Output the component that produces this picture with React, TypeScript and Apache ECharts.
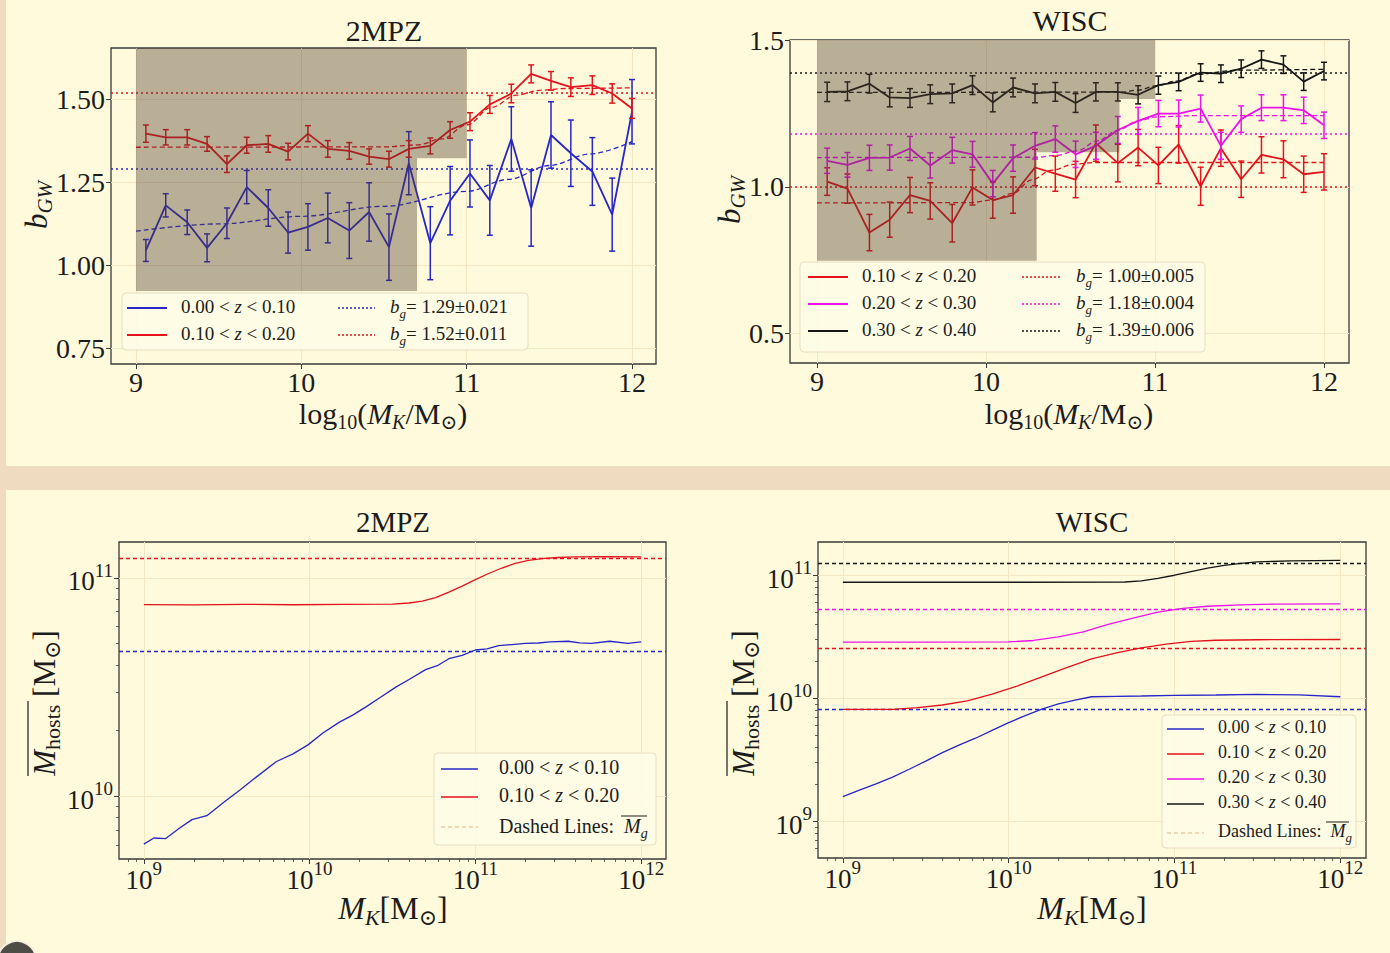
import React, { useEffect, useRef } from "react";
import * as echarts from "echarts";

const FONT = "'Liberation Serif', 'DejaVu Serif', serif";
const INK = "#1c1c1c";
const FRAME = "#3a3a3a";
const BLUE = "#2626c9";
const RED = "#e3121c";
const MAGENTA = "#ec12ec";
const BLACK = "#161616";
const SHADE = "rgba(80, 60, 45, 0.4)";
const GRIDLINE = "#f3e6c3";
const PEACH = "#f1c9a4";
const CREAM = "#fffadc";
const TAN = "#eedbc0";

// ---------------- Top row: b_GW vs log10(M_K/M_sun) ----------------
const massBins = [9.06, 9.18, 9.31, 9.43, 9.55, 9.67, 9.8, 9.92, 10.04, 10.16, 10.29, 10.41, 10.53, 10.65, 10.78, 10.9, 11.02, 11.14, 11.27, 11.39, 11.51, 11.63, 11.76, 11.88, 12.0];
const topXTicks = [9, 10, 11, 12];

// 2MPZ
const blue2mpz = [1.044, 1.18, 1.129, 1.052, 1.126, 1.235, 1.172, 1.098, 1.115, 1.142, 1.104, 1.16, 1.054, 1.307, 1.066, 1.194, 1.276, 1.195, 1.38, 1.172, 1.392, 1.337, 1.282, 1.152, 1.462];
const blue2mpzErr = [0.033, 0.035, 0.037, 0.042, 0.046, 0.05, 0.055, 0.062, 0.07, 0.075, 0.084, 0.088, 0.1, 0.095, 0.11, 0.103, 0.101, 0.105, 0.097, 0.115, 0.1, 0.1, 0.102, 0.11, 0.097];
const red2mpz = [1.396, 1.385, 1.385, 1.365, 1.304, 1.361, 1.365, 1.342, 1.396, 1.35, 1.344, 1.327, 1.319, 1.35, 1.359, 1.407, 1.432, 1.484, 1.517, 1.576, 1.555, 1.536, 1.542, 1.517, 1.472];
const red2mpzErr = [0.026, 0.023, 0.023, 0.022, 0.025, 0.024, 0.025, 0.025, 0.024, 0.025, 0.025, 0.023, 0.024, 0.025, 0.024, 0.025, 0.027, 0.027, 0.028, 0.027, 0.028, 0.028, 0.028, 0.029, 0.03];
const blueFit2mpzX = [9.0, 9.5, 10.0, 10.5, 11.0, 11.25, 11.5, 11.75, 12.0];
const blueFit2mpzY = [1.102, 1.124, 1.147, 1.177, 1.222, 1.258, 1.3, 1.335, 1.372];
const redFit2mpzX = [9.0, 10.5, 10.7, 10.85, 11.0, 11.15, 11.3, 11.45, 11.6, 12.0];
const redFit2mpzY = [1.355, 1.356, 1.362, 1.38, 1.422, 1.475, 1.512, 1.527, 1.532, 1.534];
const bg2mpz = [1.29, 1.52];
const bg2mpzErr = ["0.021", "0.011"];
const shade2mpzX = [9.0, 11.0, 11.0, 10.7, 10.7, 9.0];
const shade2mpzY = [1.654, 1.654, 1.322, 1.322, 0.922, 0.922];
const y2mpzTicks = [0.75, 1.0, 1.25, 1.5];

// WISC
const redWisc = [1.018, 0.994, 0.844, 0.888, 0.972, 0.952, 0.876, 0.998, 0.955, 0.972, 1.066, 1.045, 1.025, 1.149, 1.081, 1.134, 1.073, 1.145, 1.002, 1.132, 1.026, 1.109, 1.094, 1.043, 1.051];
const redWiscErr = [0.047, 0.05, 0.062, 0.06, 0.06, 0.062, 0.064, 0.06, 0.062, 0.062, 0.062, 0.06, 0.062, 0.062, 0.064, 0.062, 0.062, 0.064, 0.065, 0.062, 0.062, 0.062, 0.063, 0.062, 0.062];
const magWisc = [1.089, 1.075, 1.099, 1.1, 1.131, 1.073, 1.125, 1.111, 1.011, 1.098, 1.14, 1.163, 1.111, 1.14, 1.194, 1.225, 1.25, 1.25, 1.267, 1.14, 1.231, 1.27, 1.27, 1.261, 1.21];
const magWiscErr = [0.043, 0.042, 0.043, 0.043, 0.041, 0.043, 0.044, 0.044, 0.045, 0.045, 0.045, 0.045, 0.045, 0.046, 0.046, 0.046, 0.045, 0.046, 0.046, 0.046, 0.045, 0.044, 0.044, 0.045, 0.045];
const blackWisc = [1.324, 1.326, 1.352, 1.305, 1.303, 1.316, 1.319, 1.347, 1.288, 1.339, 1.319, 1.324, 1.286, 1.324, 1.324, 1.314, 1.347, 1.358, 1.39, 1.386, 1.403, 1.434, 1.417, 1.359, 1.395];
const blackWiscErr = [0.033, 0.032, 0.032, 0.032, 0.032, 0.032, 0.032, 0.032, 0.032, 0.032, 0.032, 0.032, 0.032, 0.031, 0.031, 0.031, 0.031, 0.03, 0.03, 0.03, 0.03, 0.03, 0.03, 0.03, 0.03];
const redFitWiscX = [9.0, 9.9, 10.04, 10.16, 10.27, 10.39, 10.52, 10.64, 12.0];
const redFitWiscY = [0.945, 0.946, 0.955, 0.978, 1.024, 1.057, 1.077, 1.083, 1.083];
const magFitWiscX = [9.0, 10.3, 10.42, 10.54, 10.66, 10.78, 10.9, 11.01, 11.25, 12.0];
const magFitWiscY = [1.1, 1.101, 1.108, 1.123, 1.157, 1.193, 1.225, 1.239, 1.243, 1.243];
const blackFitWiscX = [9.0, 10.8, 10.9, 11.0, 11.13, 11.25, 11.49, 12.0];
const blackFitWiscY = [1.322, 1.323, 1.33, 1.344, 1.361, 1.384, 1.398, 1.401];
const bgWisc = [1.0, 1.18, 1.39];
const bgWiscErr = ["0.005", "0.004", "0.006"];
const shadeWiscX = [9.0, 11.0, 11.0, 10.79, 10.79, 10.3, 10.3, 9.0];
const shadeWiscY = [1.501, 1.501, 1.3, 1.3, 1.118, 1.118, 0.748, 0.748];
const yWiscTicks = [0.5, 1.0, 1.5];

// ---------------- Bottom row: mean host mass (log10 values) ----------------
const logTicksX = [9, 10, 11, 12];
const hostBlue2mpzX = [9.0, 9.06, 9.13, 9.21, 9.29, 9.38, 9.49, 9.58, 9.67, 9.8, 9.9, 9.99, 10.08, 10.18, 10.26, 10.34, 10.43, 10.52, 10.6, 10.7, 10.77, 10.84, 10.92, 11.0, 11.07, 11.14, 11.22, 11.3, 11.38, 11.45, 11.56, 11.63, 11.7, 11.81, 11.92, 12.0];
const hostBlue2mpzY = [9.782, 9.81, 9.807, 9.852, 9.894, 9.912, 9.978, 10.03, 10.084, 10.16, 10.195, 10.236, 10.29, 10.34, 10.372, 10.41, 10.455, 10.5, 10.535, 10.58, 10.598, 10.63, 10.645, 10.67, 10.675, 10.69, 10.695, 10.7, 10.702, 10.707, 10.71, 10.703, 10.7, 10.71, 10.7, 10.707];
const hostRed2mpzX = [9.0, 9.3, 9.6, 9.9, 10.2, 10.5, 10.6, 10.68, 10.76, 10.84, 10.92, 11.0, 11.08, 11.16, 11.24, 11.32, 11.4, 11.5, 11.6, 11.8, 12.0];
const hostRed2mpzY = [10.878, 10.876, 10.879, 10.877, 10.879, 10.88, 10.885, 10.894, 10.91, 10.935, 10.962, 10.992, 11.02, 11.045, 11.066, 11.08, 11.088, 11.093, 11.096, 11.097, 11.096];
const mg2mpz = [10.665, 11.089];

const hostBlueWiscX = [9.0, 9.1, 9.2, 9.3, 9.4, 9.5, 9.6, 9.7, 9.8, 9.9, 10.0, 10.1, 10.2, 10.3, 10.4, 10.5, 10.65, 10.8, 11.0, 11.25, 11.5, 11.75, 12.0];
const hostBlueWiscY = [9.202, 9.255, 9.305, 9.36, 9.424, 9.49, 9.559, 9.62, 9.676, 9.74, 9.802, 9.86, 9.913, 9.955, 9.986, 10.013, 10.016, 10.019, 10.024, 10.027, 10.032, 10.028, 10.013];
const hostRedWiscX = [9.0, 9.3, 9.45, 9.6, 9.75, 9.9, 10.05, 10.2, 10.35, 10.5, 10.65, 10.8, 10.95, 11.1, 11.25, 11.5, 12.0];
const hostRedWiscY = [9.911, 9.91, 9.925, 9.946, 9.98, 10.035, 10.1, 10.175, 10.25, 10.32, 10.37, 10.41, 10.44, 10.462, 10.472, 10.476, 10.478];
const hostMagWiscX = [9.0, 9.5, 10.0, 10.15, 10.3, 10.45, 10.6, 10.75, 10.9, 11.05, 11.2, 11.4, 11.6, 12.0];
const hostMagWiscY = [10.457, 10.456, 10.458, 10.47, 10.5, 10.54, 10.6, 10.652, 10.7, 10.73, 10.748, 10.759, 10.765, 10.767];
const hostBlackWiscX = [9.0, 10.0, 10.7, 10.8, 10.9, 11.0, 11.1, 11.2, 11.3, 11.4, 11.5, 11.7, 12.0];
const hostBlackWiscY = [10.943, 10.943, 10.945, 10.955, 10.975, 11.0, 11.03, 11.058, 11.08, 11.097, 11.108, 11.117, 11.12];
const mgWisc = [9.913, 10.41, 10.727, 11.1];

const zLow = ["0.00", "0.10", "0.20", "0.30"];
const zHigh = ["0.10", "0.20", "0.30", "0.40"];

// ---------------- helpers ----------------
const pairs = (xs: number[], ys: number[]) => xs.map((x, i) => [x, ys[i]]);
const logPairs = (xs: number[], ys: number[]) => xs.map((x, i) => [Math.pow(10, x), Math.pow(10, ys[i])]);

function minorLogTicks(lo: number, hi: number) {
  const out: number[] = [];
  for (let e = Math.floor(lo); e <= Math.ceil(hi); e++) {
    for (let k = 2; k <= 9; k++) {
      const lv = Math.log10(k) + e;
      if (lv > lo && lv < hi) out.push(k * Math.pow(10, e));
    }
  }
  return out;
}

function richSet(size: number, sub: number) {
  const base = { fontFamily: FONT, fill: INK, color: INK };
  return {
    r: { ...base, fontSize: size, lineHeight: size + 4, verticalAlign: "top" },
    i: { ...base, fontSize: size, lineHeight: size + 4, verticalAlign: "top", fontStyle: "italic" },
    s: { ...base, fontSize: sub, verticalAlign: "bottom" },
    si: { ...base, fontSize: sub, verticalAlign: "bottom", fontStyle: "italic" },
  };
}

function textEl(x: number, y: number, text: string, size: number, sub: number, align = "center", rotation = 0) {
  return {
    type: "text",
    x,
    y,
    rotation,
    z: 100,
    silent: true,
    style: {
      text,
      rich: richSet(size, sub),
      align,
      verticalAlign: "middle",
      fill: INK,
      font: `${size}px ${FONT}`,
    },
  };
}

function lineEl(x1: number, y1: number, x2: number, y2: number, color: string, width: number, dash?: number[]) {
  const style: any = { stroke: color, lineWidth: width };
  if (dash) style.lineDash = dash;
  return { type: "line", z: 101, silent: true, shape: { x1, y1, x2, y2 }, style };
}

function boxEl(x: number, y: number, w: number, h: number) {
  return {
    type: "rect",
    z: 99,
    silent: true,
    shape: { x, y, width: w, height: h, r: 4 },
    style: { fill: "rgba(255,251,230,0.85)", stroke: "#eadcc0", lineWidth: 1 },
  };
}

const zText = (i: number) => `{r|${zLow[i]} < }{i|z}{r| < ${zHigh[i]}}`;
const bgText = (v: number, e: string) => `{i|b}{si|g}{r|= ${v.toFixed(2)}±${e}}`;

function linAxis(dim: "x" | "y", gi: number, min: number, max: number, ticks: number[], fmt: (v: number) => string) {
  return {
    type: "value",
    gridIndex: gi,
    min,
    max,
    position: dim === "x" ? "bottom" : "left",
    axisLine: { show: false },
    splitLine: { show: false },
    axisTick: { show: true, customValues: ticks, length: 5, lineStyle: { color: FRAME, width: 1 } },
    axisLabel: {
      customValues: ticks,
      formatter: (v: number) => fmt(v),
      fontFamily: FONT,
      fontSize: 28,
      color: INK,
      margin: dim === "x" ? 4 : 6,
    },
  };
}

function logAxis(dim: "x" | "y", gi: number, lo: number, hi: number, ticks: number[]) {
  return {
    type: "log",
    logBase: 10,
    gridIndex: gi,
    min: Math.pow(10, lo),
    max: Math.pow(10, hi),
    position: dim === "x" ? "bottom" : "left",
    axisLine: { show: false },
    splitLine: { show: false },
    axisTick: { show: true, customValues: ticks.map((t) => Math.pow(10, t)), length: 5, lineStyle: { color: FRAME, width: 1 } },
    axisLabel: {
      customValues: ticks.map((t) => Math.pow(10, t)),
      formatter: (v: number) => `{b|10}{p|${Math.round(Math.log10(v))}}`,
      rich: {
        b: { fontFamily: FONT, fontSize: 27, lineHeight: 34, verticalAlign: "bottom", color: INK },
        p: { fontFamily: FONT, fontSize: 19, verticalAlign: "top", color: INK },
      },
      margin: dim === "x" ? 0 : 6,
    },
  };
}

function minorAxis(dim: "x" | "y", gi: number, lo: number, hi: number) {
  return {
    type: "log",
    logBase: 10,
    gridIndex: gi,
    min: Math.pow(10, lo),
    max: Math.pow(10, hi),
    position: dim === "x" ? "bottom" : "left",
    axisLine: { show: false },
    splitLine: { show: false },
    axisLabel: { show: false },
    axisTick: { show: true, customValues: minorLogTicks(lo, hi), length: 3, lineStyle: { color: FRAME, width: 0.8 } },
  };
}

function lineSeries(ai: number, data: number[][], color: string, width: number, dash?: number[], smooth = false) {
  return {
    type: "line",
    xAxisIndex: ai,
    yAxisIndex: ai,
    data,
    symbol: "none",
    showSymbol: false,
    smooth: smooth ? 0.35 : false,
    smoothMonotone: "x",
    silent: true,
    z: 3,
    lineStyle: { color, width, type: dash || "solid" },
  };
}

function errSeries(ai: number, xs: number[], ys: number[], es: number[], color: string) {
  return {
    type: "custom",
    xAxisIndex: ai,
    yAxisIndex: ai,
    silent: true,
    z: 4,
    data: xs.map((x, i) => [x, ys[i], es[i]]),
    encode: { x: 0, y: 1 },
    renderItem: (_p: any, api: any) => {
      const x = api.value(0);
      const y = api.value(1);
      const e = api.value(2);
      const lo = api.coord([x, y - e]);
      const hi = api.coord([x, y + e]);
      const cap = 3;
      const st = { stroke: color, lineWidth: 1.5 };
      return {
        type: "group",
        children: [
          { type: "line", shape: { x1: lo[0], y1: lo[1], x2: hi[0], y2: hi[1] }, style: st },
          { type: "line", shape: { x1: lo[0] - cap, y1: lo[1], x2: lo[0] + cap, y2: lo[1] }, style: st },
          { type: "line", shape: { x1: hi[0] - cap, y1: hi[1], x2: hi[0] + cap, y2: hi[1] }, style: st },
        ],
      };
    },
  };
}

function shadeSeries(ai: number, xs: number[], ys: number[]) {
  return {
    type: "custom",
    xAxisIndex: ai,
    yAxisIndex: ai,
    silent: true,
    z: 6,
    clip: false,
    data: xs.map((x, i) => [x, ys[i]]),
    encode: { x: 0, y: 1 },
    renderItem: (p: any, api: any) => {
      if (p.dataIndex !== 0) return null;
      return {
        type: "polygon",
        shape: { points: xs.map((x, i) => api.coord([x, ys[i]])) },
        style: { fill: SHADE },
      };
    },
  };
}

function refSeries(ai: number, items: any[], z: number) {
  return {
    type: "line",
    xAxisIndex: ai,
    yAxisIndex: ai,
    data: [],
    silent: true,
    z,
    markLine: {
      silent: true,
      z,
      symbol: ["none", "none"],
      animation: false,
      label: { show: false },
      emphasis: { disabled: true },
      data: items,
    },
  };
}

const gridLine = (key: "xAxis" | "yAxis", v: number) => ({ [key]: v, lineStyle: { color: GRIDLINE, width: 1, type: "solid" } });
const hLine = (v: number, color: string, dash: number[], width: number) => ({ yAxis: v, lineStyle: { color, width, type: dash } });

function buildOption() {
  const grids = [
    { left: 111, top: 48, width: 545, height: 316 },
    { left: 790, top: 40, width: 559, height: 323 },
    { left: 119, top: 542, width: 547, height: 317 },
    { left: 818, top: 542, width: 548, height: 316 },
  ].map((g) => ({ ...g, show: true, borderColor: FRAME, borderWidth: 1.3, backgroundColor: "transparent" }));

  const BL = { xlo: 8.85, xhi: 12.15, ylo: 9.714, yhi: 11.164 };
  const BR = { xlo: 8.85, xhi: 12.155, ylo: 8.703, yhi: 11.27 };

  const xAxis = [
    linAxis("x", 0, 8.849, 12.145, topXTicks, (v) => String(v)),
    linAxis("x", 1, 8.84, 12.148, topXTicks, (v) => String(v)),
    logAxis("x", 2, BL.xlo, BL.xhi, logTicksX),
    logAxis("x", 3, BR.xlo, BR.xhi, logTicksX),
    minorAxis("x", 2, BL.xlo, BL.xhi),
    minorAxis("x", 3, BR.xlo, BR.xhi),
  ];
  const yAxis = [
    linAxis("y", 0, 0.702, 1.654, y2mpzTicks, (v) => v.toFixed(2)),
    linAxis("y", 1, 0.399, 1.501, yWiscTicks, (v) => v.toFixed(1)),
    logAxis("y", 2, BL.ylo, BL.yhi, [10, 11]),
    logAxis("y", 3, BR.ylo, BR.yhi, [9, 10, 11]),
    minorAxis("y", 2, BL.ylo, BL.yhi),
    minorAxis("y", 3, BR.ylo, BR.yhi),
  ];

  const DOT = [2, 3];
  const DASH = [5, 3];
  const series: any[] = [
    // grid lines
    refSeries(0, [...topXTicks.map((v) => gridLine("xAxis", v)), ...y2mpzTicks.map((v) => gridLine("yAxis", v))], 1),
    refSeries(1, [...topXTicks.map((v) => gridLine("xAxis", v)), ...yWiscTicks.map((v) => gridLine("yAxis", v))], 1),
    refSeries(2, [...logTicksX.map((v) => gridLine("xAxis", Math.pow(10, v))), ...[10, 11].map((v) => gridLine("yAxis", Math.pow(10, v)))], 1),
    refSeries(3, [...logTicksX.map((v) => gridLine("xAxis", Math.pow(10, v))), ...[9, 10, 11].map((v) => gridLine("yAxis", Math.pow(10, v)))], 1),

    // ---- 2MPZ top ----
    refSeries(0, [hLine(bg2mpz[0], BLUE, DOT, 1.6), hLine(bg2mpz[1], RED, DOT, 1.6)], 2),
    lineSeries(0, pairs(blueFit2mpzX, blueFit2mpzY), BLUE, 1.3, DASH, true),
    lineSeries(0, pairs(redFit2mpzX, redFit2mpzY), RED, 1.3, DASH, true),
    lineSeries(0, pairs(massBins, blue2mpz), BLUE, 1.8),
    errSeries(0, massBins, blue2mpz, blue2mpzErr, BLUE),
    lineSeries(0, pairs(massBins, red2mpz), RED, 1.8),
    errSeries(0, massBins, red2mpz, red2mpzErr, RED),
    shadeSeries(0, shade2mpzX, shade2mpzY),

    // ---- WISC top ----
    refSeries(1, [hLine(bgWisc[0], RED, DOT, 1.6), hLine(bgWisc[1], MAGENTA, DOT, 1.6), hLine(bgWisc[2], BLACK, DOT, 1.6)], 2),
    lineSeries(1, pairs(redFitWiscX, redFitWiscY), RED, 1.3, DASH, true),
    lineSeries(1, pairs(magFitWiscX, magFitWiscY), MAGENTA, 1.3, DASH, true),
    lineSeries(1, pairs(blackFitWiscX, blackFitWiscY), BLACK, 1.3, DASH, true),
    lineSeries(1, pairs(massBins, redWisc), RED, 1.8),
    errSeries(1, massBins, redWisc, redWiscErr, RED),
    lineSeries(1, pairs(massBins, magWisc), MAGENTA, 1.8),
    errSeries(1, massBins, magWisc, magWiscErr, MAGENTA),
    lineSeries(1, pairs(massBins, blackWisc), BLACK, 1.8),
    errSeries(1, massBins, blackWisc, blackWiscErr, BLACK),
    shadeSeries(1, shadeWiscX, shadeWiscY),

    // ---- 2MPZ bottom ----
    refSeries(2, [hLine(Math.pow(10, mg2mpz[0]), BLUE, [4, 3], 1.3), hLine(Math.pow(10, mg2mpz[1]), RED, [4, 3], 1.3)], 2),
    lineSeries(2, logPairs(hostBlue2mpzX, hostBlue2mpzY), BLUE, 1.3),
    lineSeries(2, logPairs(hostRed2mpzX, hostRed2mpzY), RED, 1.3),

    // ---- WISC bottom ----
    refSeries(
      3,
      [
        hLine(Math.pow(10, mgWisc[0]), BLUE, [4, 3], 1.3),
        hLine(Math.pow(10, mgWisc[1]), RED, [4, 3], 1.3),
        hLine(Math.pow(10, mgWisc[2]), MAGENTA, [4, 3], 1.3),
        hLine(Math.pow(10, mgWisc[3]), BLACK, [4, 3], 1.3),
      ],
      2
    ),
    lineSeries(3, logPairs(hostBlueWiscX, hostBlueWiscY), BLUE, 1.3),
    lineSeries(3, logPairs(hostRedWiscX, hostRedWiscY), RED, 1.3),
    lineSeries(3, logPairs(hostMagWiscX, hostMagWiscY), MAGENTA, 1.3),
    lineSeries(3, logPairs(hostBlackWiscX, hostBlackWiscY), BLACK, 1.3),
  ];

  const graphics: any[] = [
    { type: "rect", z: 0, silent: true, shape: { x: 0, y: 0, width: 6, height: 953 }, style: { fill: TAN } },
    { type: "rect", z: 0, silent: true, shape: { x: 0, y: 466, width: 1390, height: 24 }, style: { fill: TAN } },
    { type: "circle", z: 0, silent: true, shape: { cx: 17, cy: 960, r: 19 }, style: { fill: "#4d4d45", stroke: "#f6f0dc", lineWidth: 2 } },

    // titles
    textEl(384, 32, "{r|2MPZ}", 30, 20),
    textEl(1070, 22, "{r|WISC}", 30, 20),
    textEl(393, 524, "{r|2MPZ}", 29, 20),
    textEl(1092, 524, "{r|WISC}", 29, 20),

    // x axis names
    textEl(383, 415, "{r|log}{s|10}{r|(}{i|M}{si|K}{r|/M}{s|⊙}{r|)}", 30, 20),
    textEl(1069, 415, "{r|log}{s|10}{r|(}{i|M}{si|K}{r|/M}{s|⊙}{r|)}", 30, 20),
    textEl(393, 910, "{i|M}{si|K}{r|[M}{s|⊙}{r|]}", 32, 22),
    textEl(1092, 910, "{i|M}{si|K}{r|[M}{s|⊙}{r|]}", 32, 22),

    // y axis names
    textEl(38, 205, "{i|b}{si|GW}", 31, 21, "center", Math.PI / 2),
    textEl(731, 200, "{i|b}{si|GW}", 31, 21, "center", Math.PI / 2),
  ];

  // rotated mean-host-mass labels with overline
  for (const cx of [46, 745]) {
    graphics.push({
      type: "group",
      x: cx,
      y: 703,
      rotation: Math.PI / 2,
      z: 100,
      silent: true,
      children: [
        {
          type: "text",
          x: 0,
          y: 0,
          style: {
            text: "{i|M}{s|hosts}{r| [M}{s|⊙}{r|]}",
            rich: richSet(31, 22),
            align: "center",
            verticalAlign: "middle",
            fill: INK,
          },
        },
        { type: "line", shape: { x1: -73, y1: -18, x2: 2, y2: -18 }, style: { stroke: INK, lineWidth: 1.2 } },
      ],
    });
  }

  // legend: 2MPZ top
  graphics.push(boxEl(122, 293, 406, 57));
  [BLUE, RED].forEach((c, i) => {
    const y = 308 + i * 27;
    graphics.push(lineEl(127, y, 167, y, c, 2));
    graphics.push(textEl(181, y, zText(i), 19, 13, "left"));
    graphics.push(lineEl(338, y, 375, y, c, 1.5, [2, 2]));
    graphics.push(textEl(390, y, bgText(bg2mpz[i], bg2mpzErr[i]), 19, 13, "left"));
  });

  // legend: WISC top
  graphics.push(boxEl(800, 262, 405, 90));
  [RED, MAGENTA, BLACK].forEach((c, i) => {
    const y = 277 + i * 27;
    graphics.push(lineEl(808, y, 848, y, c, 2));
    graphics.push(textEl(862, y, zText(i + 1), 19, 13, "left"));
    graphics.push(lineEl(1022, y, 1060, y, c, 1.5, [2, 2]));
    graphics.push(textEl(1076, y, bgText(bgWisc[i], bgWiscErr[i]), 19, 13, "left"));
  });

  // legend: 2MPZ bottom
  graphics.push(boxEl(434, 753, 222, 92));
  [BLUE, RED].forEach((c, i) => {
    const y = 769 + i * 28;
    graphics.push(lineEl(441, y, 478, y, c, 1.6));
    graphics.push(textEl(499, y, zText(i), 20, 14, "left"));
  });
  graphics.push(lineEl(441, 827, 478, 827, PEACH, 1.3, [4, 3]));
  graphics.push(textEl(499, 828, "{r|Dashed Lines:  }{i|M}{si|g}", 20, 14, "left"));
  graphics.push(lineEl(621, 816, 647, 816, INK, 1));

  // legend: WISC bottom
  graphics.push(boxEl(1162, 715, 194, 133));
  [BLUE, RED, MAGENTA, BLACK].forEach((c, i) => {
    const y = 729 + i * 25;
    graphics.push(lineEl(1167, y, 1204, y, c, 1.6));
    graphics.push(textEl(1218, y, zText(i), 18, 13, "left"));
  });
  graphics.push(lineEl(1167, 833, 1204, 833, PEACH, 1.3, [4, 3]));
  graphics.push(textEl(1218, 833, "{r|Dashed Lines:  }{i|M}{si|g}", 18, 13, "left"));
  graphics.push(lineEl(1326, 822, 1349, 822, INK, 1));

  return {
    animation: false,
    backgroundColor: CREAM,
    grid: grids,
    xAxis,
    yAxis,
    series,
    graphic: { elements: graphics },
  };
}

export default function App() {
  const ref = useRef<HTMLDivElement>(null);
  useEffect(() => {
    if (!ref.current) return;
    const chart = echarts.init(ref.current, null, { renderer: "svg" });
    chart.setOption(buildOption() as any);
    return () => chart.dispose();
  }, []);
  return <div ref={ref} style={{ position: "fixed", left: 0, top: 0, width: 1390, height: 953 }} />;
}
